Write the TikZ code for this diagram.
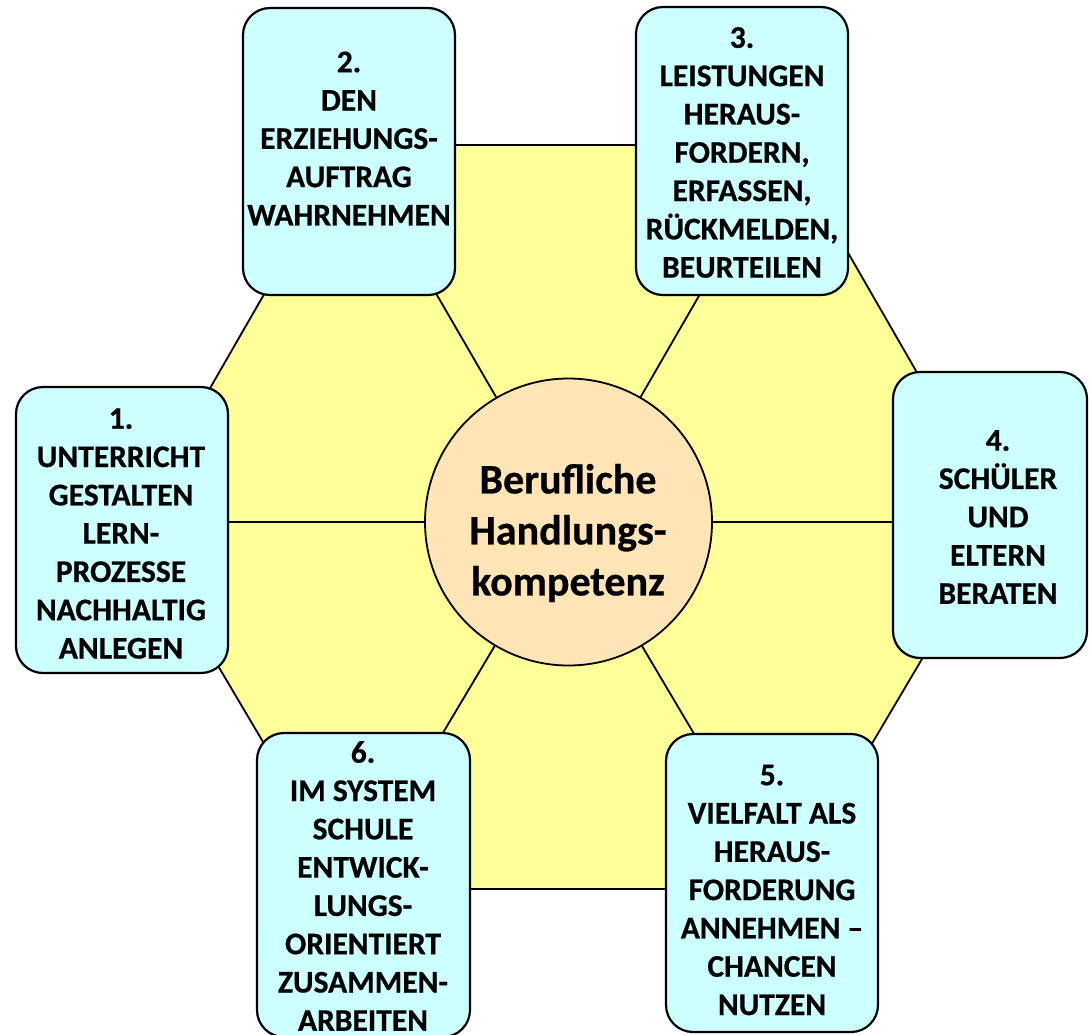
\documentclass[tikz,border=0pt]{standalone}
\usepackage{fontspec}
\setmainfont{Carlito}[BoldFeatures={FakeBold=0.6}]
\definecolor{hexyellow}{HTML}{FFFF99}
\definecolor{boxcyan}{HTML}{CCFFFF}
\definecolor{corepeach}{HTML}{FFE5B5}
\begin{document}
\begin{tikzpicture}[x=1pt,y=-1pt,
  hexline/.style={line width=1.8pt},
  taskbox/.style={draw=black, line width=2.2pt, fill=boxcyan, rounded corners=27pt, inner sep=0pt},
  tasktext/.style={align=center, font=\fontsize{31.5}{38.3}\selectfont\bfseries, inner sep=0pt},
  core/.style={circle, draw=black, line width=1.8pt, fill=corepeach, minimum size=287pt, inner sep=0pt},
  coretext/.style={align=center, font=\fontsize{42}{51}\selectfont\bfseries, inner sep=0pt}]
\useasboundingbox (0,0) rectangle (1089,1034);
% hexagon vertices
\coordinate (vL) at (133,522);
\coordinate (vTL) at (350,145);
\coordinate (vTR) at (786,145);
\coordinate (vR) at (1003,522);
\coordinate (vBR) at (786,889);
\coordinate (vBL) at (350,889);
\fill[hexyellow] (vL) -- (vTL) -- (vTR) -- (vR) -- (vBR) -- (vBL) -- cycle;
\draw[hexline] (vL) -- (vTL) -- (vTR) -- (vR) -- (vBR) -- (vBL) -- cycle;
% centre
\node[core] (core) at (568.5,522) {};
\foreach \v in {vL,vTL,vTR,vR,vBR,vBL} \draw[hexline] (core) -- (\v);
\node[coretext] (coretxt) at (568,533) {Berufliche\\Handlungs-\\kompetenz};
% boxes
\node[taskbox, minimum width=212pt, minimum height=286pt] (b1) at (122,530) {};
\node[taskbox, minimum width=212pt, minimum height=287pt] (b2) at (349,151.5) {};
\node[taskbox, minimum width=212pt, minimum height=288pt] (b3) at (742,151) {};
\node[taskbox, minimum width=194pt, minimum height=286pt] (b4) at (990,515) {};
\node[taskbox, minimum width=212pt, minimum height=298pt] (b5) at (772,883) {};
\node[taskbox, minimum width=213pt, minimum height=304pt] (b6) at (363.5,885) {};
\node[tasktext] (t1) at (121,533.5) {1.\\UNTERRICHT\\GESTALTEN\\LERN-\\PROZESSE\\NACHHALTIG\\ANLEGEN};
\node[tasktext] (t2) at (349,138.5) {2.\\DEN\\ERZIEHUNGS-\\AUFTRAG\\WAHRNEHMEN};
\node[tasktext] (t3) at (742,152.5) {3.\\LEISTUNGEN\\HERAUS-\\FORDERN,\\ERFASSEN,\\RÜCKMELDEN,\\BEURTEILEN};
\node[tasktext] (t4) at (998,517) {4.\\SCHÜLER\\UND\\ELTERN\\BERATEN};
\node[tasktext] (t5) at (772,890) {5.\\VIELFALT ALS\\HERAUS-\\FORDERUNG\\ANNEHMEN –\\CHANCEN\\NUTZEN};
\node[tasktext] (t6) at (363,886) {6.\\IM SYSTEM\\SCHULE\\ENTWICK-\\LUNGS-\\ORIENTIERT\\ZUSAMMEN-\\ARBEITEN};
\end{tikzpicture}
\end{document}
